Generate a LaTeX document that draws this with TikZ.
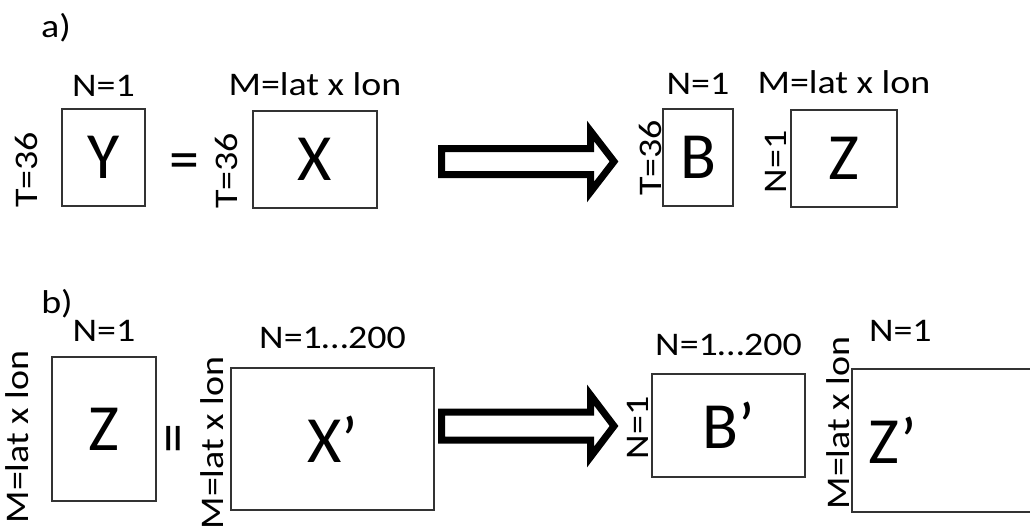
\documentclass[tikz,border=0pt]{standalone}
\usepackage{fontspec}
\setmainfont{Carlito}
\newfontfamily\labfont[FakeStretch=1.15]{Carlito}
\usetikzlibrary{positioning}
\tikzset{
    matbox/.style = {
        rectangle, draw=black!80, line width=1.3pt,
        inner sep=0pt,
        font=\fontsize{66}{72}\selectfont
    },
    dimlab/.style = {
        inner sep=0pt,
        font=\labfont\fontsize{33}{38}\selectfont
    },
    sidelab/.style = {
        dimlab, rotate=90
    },
    eqsign/.style = {
        inner sep=0pt,
        font=\fontsize{60}{66}\selectfont
    },
    bigarrow/.style = {
        draw=black, line width=7pt, fill=white,
        line join=miter, miter limit=10
    }
}

\begin{document}
\begin{tikzpicture}[x=1pt, y=-1pt]
\useasboundingbox (0,0) rectangle (1030,530);

% part a)
\node[dimlab] (parta) at (56,28) {a)};

\node[matbox, minimum width=83pt, minimum height=97pt] (Y) at (103.5,157.5) {Y};
\node[dimlab, above=12pt of Y] (nY) {N=1};
\node[sidelab] (tY) at (26,170) {T=36};

\node[eqsign] (eqa) at (184,167) {=};

\node[matbox, minimum width=124pt, minimum height=97pt] (X) at (315,159.5) {X};
\node[dimlab, above=14pt of X] (mX) {M=lat x lon};
\node[sidelab] (tX) at (226,171) {T=36};

\coordinate (arra) at (441.5,161.5);
\draw[bigarrow] (arra) ++(0,-13) -- ++(149,0) -- ++(0,-17.5) -- ++(23.5,30.5)
    -- ++(-23.5,30.5) -- ++(0,-17.5) -- ++(-149,0) -- cycle;

\node[matbox, minimum width=70pt, minimum height=97pt] (B) at (698,157.5) {B};
\node[dimlab, above=14pt of B] (nB) {N=1};
\node[sidelab] (tB) at (650,158) {T=36};

\node[matbox, minimum width=106pt, minimum height=97pt] (Z) at (844,158.5) {Z};
\node[dimlab, above=15pt of Z] (mZ) {M=lat x lon};
\node[sidelab] (nZ) at (776,162) {N=1};

% part b)
\node[dimlab] (partb) at (57,304) {b)};

\node[matbox, minimum width=104pt, minimum height=144pt] (Zb) at (104,429) {Z};
\node[dimlab, above=15pt of Zb] (nZb) {N=1};
\node[sidelab] (mZb) at (17.5,437) {M=lat x lon};

\node[eqsign, rotate=90] (eqb) at (180,439) {=};

\node[matbox, minimum width=203pt, minimum height=142pt] (Xp) at (332.5,439) {X’};
\node[dimlab, above=18pt of Xp] (nXp) {N=1…200};
\node[sidelab] (mXp) at (212,443) {M=lat x lon};

\coordinate (arrb) at (441.5,426);
\draw[bigarrow] (arrb) ++(0,-14) -- ++(149,0) -- ++(0,-17) -- ++(23.5,31)
    -- ++(-23.5,31) -- ++(0,-17) -- ++(-149,0) -- cycle;

\node[matbox, minimum width=153pt, minimum height=103pt] (Bp) at (728.5,425.5) {B’};
\node[dimlab, above=17pt of Bp] (nBp) {N=1…200};
\node[sidelab] (nBpl) at (637.5,428) {N=1};

% cut off by the right margin
\node[matbox, minimum height=143pt, inner xsep=16pt, text width=158pt, align=left] (Zp) at (947,440.5) {Z’};
\node[dimlab, above=27pt of Zp.north west, xshift=49pt] (nZp) {N=1};
\node[sidelab] (mZp) at (838,423) {M=lat x lon};

\end{tikzpicture}
\end{document}
